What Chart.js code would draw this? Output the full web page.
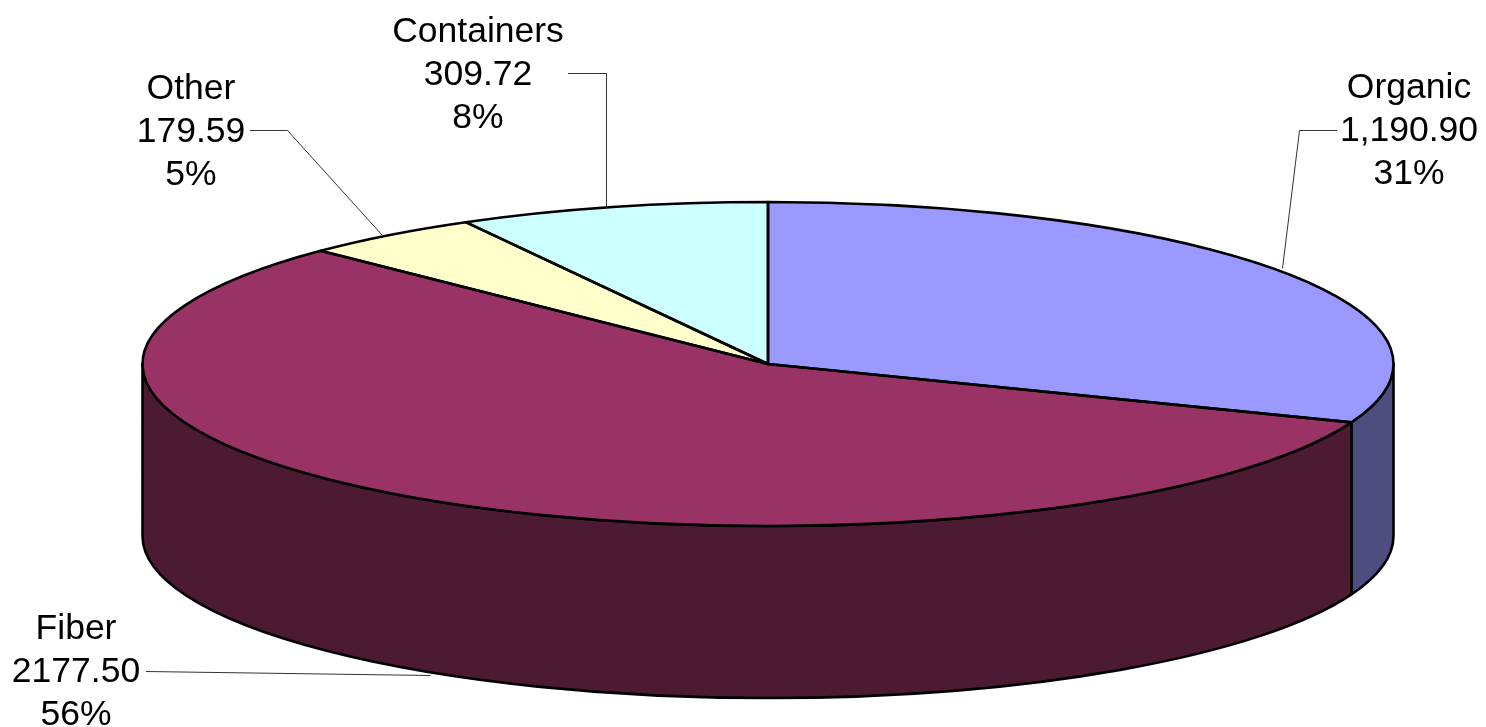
<!DOCTYPE html>
<html>
<head>
<meta charset="utf-8">
<script src="https://cdn.jsdelivr.net/npm/chart.js@4"></script>
<style>
  html, body { margin: 0; padding: 0; background: #fff; }
  canvas { display: block; }
</style>
</head>
<body>
<canvas id="pie3d" width="1486" height="727"></canvas>
<script>
// Dados
const categories = ["Organic", "Fiber", "Other", "Containers"];
const values = [1190.9, 2177.5, 179.59, 309.72];
const valueLabels = ["1,190.90", "2177.50", "179.59", "309.72"];
const percentLabels = ["31%", "56%", "5%", "8%"];
const topColors = ["#9999FF", "#993366", "#FFFFCC", "#CCFFFF"];
const sideColors = ["#4D4D80", "#4D1A33", "#80806A", "#6A8080"];

// Geometria da elipse na tela
const centerX = 768, centerY = 364, radiusX = 625.5, radiusY = 162, depth = 172;

// Posicao dos rotulos (centro x e baseline da primeira linha)
const labelX = [1409, 76, 191, 478];
const labelY = [98, 639, 99, 42];
const lineStep = 43;
const leaders = [
  [[1337, 130], [1299, 130], [1282, 268]],
  [[146, 671], [430, 675]],
  [[250, 130], [287, 130], [382, 235]],
  [[568, 73], [606, 73], [606, 207]]
];

// Parede lateral, desenhada antes das fatias
function drawSides(chart) {
  const ctx = chart.ctx;
  chart.getDatasetMeta(0).data.forEach(function (arc, i) {
    const a = Math.max(arc.startAngle, 0);
    const b = Math.min(arc.endAngle, Math.PI);
    if (b <= a) return;
    ctx.beginPath();
    ctx.ellipse(centerX, centerY, radiusX, radiusY, 0, a, b);
    ctx.ellipse(centerX, centerY + depth, radiusX, radiusY, 0, b, a, true);
    ctx.closePath();
    ctx.fillStyle = sideColors[i];
    ctx.fill();
    ctx.lineWidth = 2.6;
    ctx.lineJoin = "round";
    ctx.strokeStyle = "#000";
    ctx.stroke();
  });
}

// Contorno das fatias, sem deformar a espessura da linha
function drawOutlines(chart) {
  const ctx = chart.ctx;
  chart.getDatasetMeta(0).data.forEach(function (arc) {
    ctx.beginPath();
    ctx.moveTo(centerX, centerY);
    ctx.ellipse(centerX, centerY, radiusX, radiusY, 0, arc.startAngle, arc.endAngle);
    ctx.closePath();
    ctx.lineWidth = 2.6;
    ctx.lineJoin = "round";
    ctx.strokeStyle = "#000";
    ctx.stroke();
  });
}

function drawLabels(chart) {
  const ctx = chart.ctx;
  ctx.lineWidth = 1;
  ctx.strokeStyle = "#333";
  leaders.forEach(function (pts) {
    ctx.beginPath();
    pts.forEach(function (p, j) {
      if (j === 0) ctx.moveTo(p[0], p[1] + 0.5);
      else ctx.lineTo(p[0] + 0.5, p[1] + 0.5);
    });
    ctx.stroke();
  });

  ctx.font = '35.5px "Liberation Sans"';
  ctx.fillStyle = "#000";
  ctx.textAlign = "center";
  ctx.textBaseline = "alphabetic";
  categories.forEach(function (name, i) {
    ctx.fillText(name, labelX[i], labelY[i]);
    ctx.fillText(valueLabels[i], labelX[i], labelY[i] + lineStep);
    ctx.fillText(percentLabels[i], labelX[i], labelY[i] + lineStep * 2);
  });
}

// Achata a pizza do Chart.js e adiciona a parede lateral
const pie3dPlugin = {
  id: "pie3d",
  beforeDatasetsDraw(chart) {
    const ctx = chart.ctx;
    const arc = chart.getDatasetMeta(0).data[0];
    drawSides(chart);
    ctx.save();
    ctx.translate(centerX, centerY);
    ctx.scale(radiusX / arc.outerRadius, radiusY / arc.outerRadius);
    ctx.translate(-arc.x, -arc.y);
  },
  afterDatasetsDraw(chart) {
    chart.ctx.restore();
    drawOutlines(chart);
    drawLabels(chart);
  }
};

new Chart(document.getElementById("pie3d"), {
  type: "pie",
  data: {
    labels: categories,
    datasets: [
      {
        data: values,
        backgroundColor: topColors,
        borderWidth: 0
      }
    ]
  },
  options: {
    responsive: false,
    animation: false,
    events: [],
    plugins: {
      legend: { display: false },
      tooltip: { enabled: false }
    }
  },
  plugins: [pie3dPlugin]
});
</script>
</body>
</html>
